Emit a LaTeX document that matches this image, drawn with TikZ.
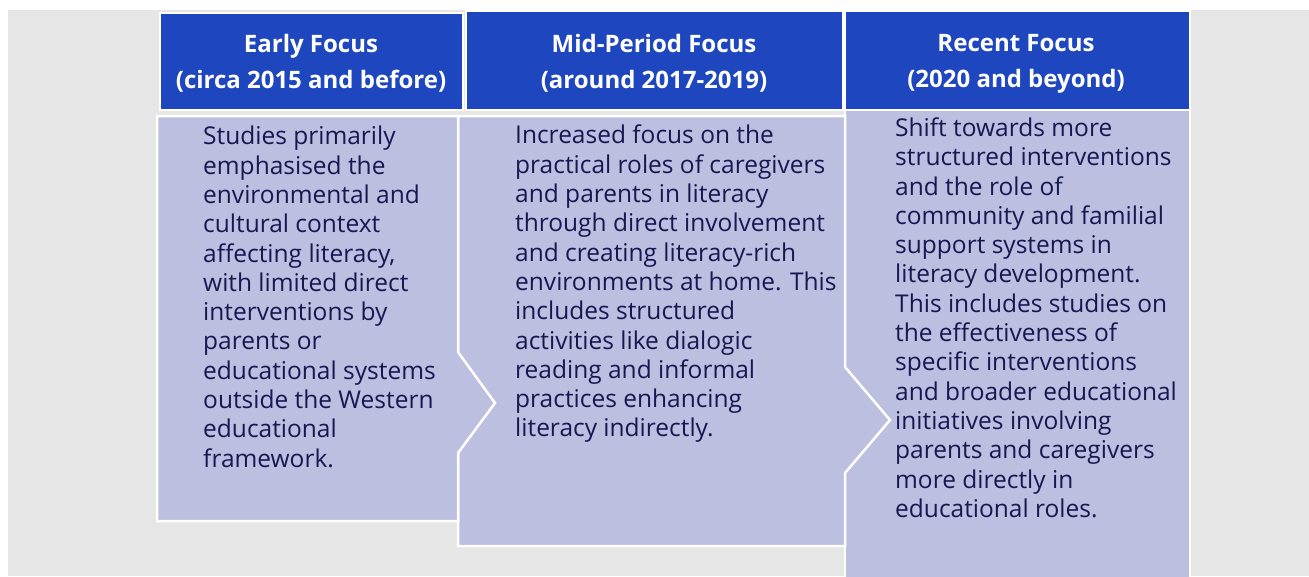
\documentclass[tikz,border=0pt]{standalone}
\usepackage{fontspec}
\setmainfont{Open Sans}
\definecolor{headblue}{RGB}{30,71,191}
\definecolor{bodyblue}{RGB}{188,191,224}
\definecolor{inkblue}{RGB}{22,24,82}
\definecolor{backgray}{RGB}{230,230,230}
\begin{document}
\begin{tikzpicture}[x=1pt,y=-1pt,
	head/.style={fill=headblue, draw=white, line width=2pt},
	body/.style={fill=bodyblue, draw=white, line width=2.5pt},
	headtext/.style={text=white, align=center, font=\bfseries\fontsize{24}{36}\selectfont},
	bodytext/.style={text=inkblue, align=left, anchor=north west, inner sep=0pt, font=\fontsize{24.5}{29.3}\selectfont}]
	\useasboundingbox (0,0) rectangle (1309,576);
	\fill[white] (0,0) rectangle (1309,576);
	\fill[backgray] (8,10) rectangle (1309,576);
	
	% the three bodies, back to front so each point lies over the next one
	\draw[body] (845,110) coordinate (R) rectangle (1190,585);
	\draw[body] (458,116) coordinate (M) -- (845,116) -- (845,367) 
		-- (890,420) coordinate (Mtip) -- (845,473) -- (845,546) -- (458,546) -- cycle;
	\draw[body] (157,116) coordinate (E) -- (458,116) -- (458,352) 
		-- (495,403) coordinate (Etip) -- (458,453) -- (458,521) -- (157,521) -- cycle;
	
	% headers
	\draw[head] (160,13) rectangle (463,110);
	\draw[head] (466,11) rectangle (843,110);
	\draw[head] (845,11) rectangle (1190,110);
	\node[headtext] (early) at (311,63.5) {Early Focus\\(circa 2015 and before)};
	\node[headtext] (mid) at (654,63.5) {Mid-Period Focus\\(around 2017-2019)};
	\node[headtext] (recent) at (1016,63.5) {Recent Focus\\(2020 and beyond)};
	
	\node[bodytext] (earlytext) at (203,126) {Studies primarily\\emphasised the\\environmental and\\cultural context\\affecting literacy,\\with limited direct\\interventions by\\parents or\\educational systems\\outside the Western\\educational\\framework.};
	\node[bodytext] (midtext) at (515,125) {Increased focus on the\\practical roles of caregivers\\and parents in literacy\\through direct involvement\\and creating literacy-rich\\environments at home. This\\includes structured\\activities like dialogic\\reading and informal\\practices enhancing\\literacy indirectly.};
	\node[bodytext] (recenttext) at (895,117.5) {Shift towards more\\structured interventions\\and the role of\\community and familial\\support systems in\\literacy development.\\This includes studies on\\the effectiveness of\\specific interventions\\and broader educational\\initiatives involving\\parents and caregivers\\more directly in\\educational roles.};
\end{tikzpicture}
\end{document}
